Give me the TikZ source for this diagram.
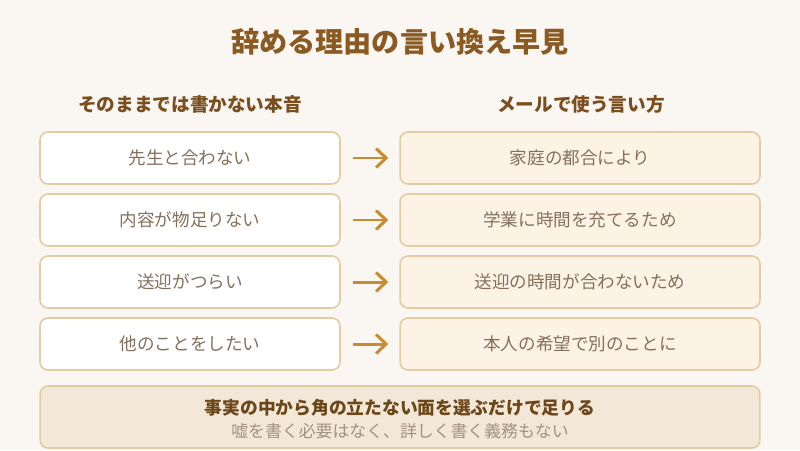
\documentclass[tikz,border=0pt]{standalone}
\usepackage{fontspec}
\setmainfont{Noto Sans CJK JP}
\usepackage{xcolor}
\usetikzlibrary{arrows.meta}

\definecolor{bgcol}{HTML}{FAF6F1}
\definecolor{titlecol}{HTML}{8A5A22}
\definecolor{headcol}{HTML}{7A4E1E}
\definecolor{edgecol}{HTML}{E3CBA3}
\definecolor{warmfill}{HTML}{FDF3E5}
\definecolor{notefill}{HTML}{F3E8D7}
\definecolor{arrowcol}{HTML}{C98B2E}
\definecolor{textcol}{HTML}{85705C}
\definecolor{notecol}{HTML}{6B4619}
\definecolor{subcol}{HTML}{A29282}

\tikzset{
  rowbox/.style={draw=edgecol,line width=0.9pt,rounded corners=0.16cm,
    minimum height=1.04cm,text=textcol,font=\fontsize{10}{12}\selectfont},
  plainbox/.style={rowbox,fill=white,minimum width=6cm},
  softbox/.style={rowbox,fill=warmfill,minimum width=7.2cm},
  headtext/.style={text=headcol,font=\bfseries\fontsize{10.6}{12}\selectfont},
  goarrow/.style={draw=arrowcol,line width=1.7pt,-{Straight Barb[length=2mm,width=3.8mm]},
    shorten <=0.24cm,shorten >=0.22cm}
}

\begin{document}
\begin{tikzpicture}[x=0.02cm,y=-0.02cm]
    \fill[bgcol] (0,0) rectangle (800,450);

    \node[text=titlecol,font=\bfseries\fontsize{16}{18}\selectfont] (title) at (400,42) {辞める理由の言い換え早見};

    \node[headtext] (headl) at (190,104) {そのままでは書かない本音};
    \node[headtext] (headr) at (581,104) {メールで使う言い方};

    \foreach \i/\y/\said/\meant in {1/158/先生と合わない/家庭の都合により,
                                    2/220/内容が物足りない/学業に時間を充てるため,
                                    3/282/送迎がつらい/送迎の時間が合わないため,
                                    4/344/他のことをしたい/本人の希望で別のことに} {
      \node[plainbox] (said\i) at (190,\y) {\said};
      \node[softbox] (meant\i) at (580,\y) {\meant};
      \draw[goarrow] (said\i) -- (meant\i);
    }

    \node[draw=edgecol,line width=0.9pt,rounded corners=0.16cm,fill=notefill,
      minimum width=14.4cm,minimum height=1.24cm] (note) at (400,417) {};
    \node[text=notecol,font=\bfseries\fontsize{10.1}{12}\selectfont] (notemain) at (400,408) {事実の中から角の立たない面を選ぶだけで足りる};
    \node[text=subcol,font=\fontsize{9.6}{12}\selectfont] (notesub) at (400,431) {嘘を書く必要はなく、詳しく書く義務もない};
\end{tikzpicture}
\end{document}
